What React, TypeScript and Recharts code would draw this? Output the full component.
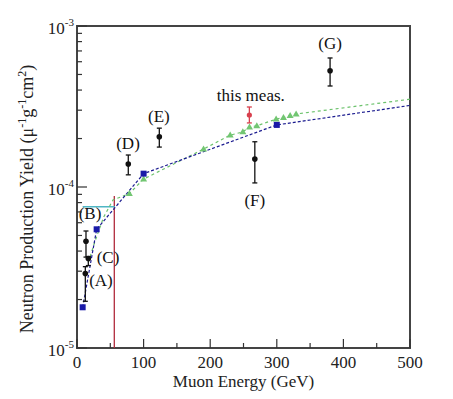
import React from 'react';
import {
  ComposedChart, Line, Scatter, XAxis, YAxis, ErrorBar, ReferenceArea,
} from 'recharts';

const FONT = '"Liberation Serif", "Times New Roman", serif';

// Black data points (other experiments) with asymmetric errors [minus, plus]
const blackEnergy = [12.5, 13.5, 17, 77, 123.6, 267, 380];
const blackYield = [2.9e-5, 4.6e-5, 3.6e-5, 1.39e-4, 2.05e-4, 1.49e-4, 5.27e-4];
const blackErr: [number, number][] = [
  [0.95e-5, 0.3e-5], [0.93e-5, 0.73e-5], [0.35e-5, 0.1e-5],
  [0.2e-4, 0.19e-4], [0.28e-4, 0.27e-4], [0.43e-4, 0.42e-4], [1.03e-4, 1.06e-4],
];

// This measurement
const measEnergy = [258.8];
const measYield = [2.8e-4];
const measErr: [number, number][] = [[0.3e-4, 0.34e-4]];

// Blue model (squares, dashed)
const blueEnergy = [8.5, 29.5, 100, 300, 500];
const blueYield = [1.79e-5, 5.46e-5, 1.21e-4, 2.43e-4, 3.21e-4];

// Green model curve (dotted) and its triangle points
const greenEnergy = [17, 27, 40, 54, 78.6, 100, 190, 230, 249, 259, 270, 299, 310, 320, 329, 500];
const greenYield = [3.4e-5, 4.6e-5, 6.5e-5, 8.3e-5, 9.1e-5, 1.12e-4, 1.72e-4, 2.1e-4, 2.2e-4, 2.36e-4, 2.4e-4, 2.64e-4, 2.7e-4, 2.78e-4, 2.84e-4, 3.51e-4];
const triEnergy = [78.6, 100, 190, 230, 249, 259, 270, 299, 310, 320, 329];
const triYield = [9.1e-5, 1.12e-4, 1.72e-4, 2.1e-4, 2.2e-4, 2.36e-4, 2.4e-4, 2.64e-4, 2.7e-4, 2.78e-4, 2.84e-4];

// Threshold guide lines
const cyanEnergy = [8.5, 57];
const cyanYield = [7.55e-5, 7.55e-5];
const redEnergy = [56, 56];
const redYield = [1e-5, 8.8e-5];

// Annotations
const labelText = ['(G)', 'this meas.', '(E)', '(D)', '(F)', '(B)', '(C)', '(A)'];
const labelEnergy = [380, 261, 123, 76.6, 267, 19.5, 46.5, 36];
const labelYield = [7.8e-4, 3.72e-4, 2.75e-4, 1.86e-4, 8.3e-5, 6.8e-5, 3.67e-5, 2.64e-5];

const xTicks = [0, 50, 100, 150, 200, 250, 300, 350, 400, 450, 500];
const yTicks = [
  1e-5, 2e-5, 3e-5, 4e-5, 5e-5, 6e-5, 7e-5, 8e-5, 9e-5,
  1e-4, 2e-4, 3e-4, 4e-4, 5e-4, 6e-4, 7e-4, 8e-4, 9e-4, 1e-3,
];

const zip = (xs: number[], ys: number[]) => xs.map((x, i) => ({ x, y: ys[i] }));
const blackData = blackEnergy.map((x, i) => ({ x, y: blackYield[i], err: blackErr[i] }));
const measData = measEnergy.map((x, i) => ({ x, y: measYield[i], err: measErr[i] }));
const blueData = zip(blueEnergy, blueYield);
const greenData = zip(greenEnergy, greenYield);
const triData = zip(triEnergy, triYield);
const cyanData = zip(cyanEnergy, cyanYield);
const redData = zip(redEnergy, redYield);
const labelData = labelEnergy.map((x, i) => ({ x, y: labelYield[i], text: labelText[i] }));

const renderXTick = (props: any) => {
  const { x, y, payload, index } = props;
  const v = payload.value;
  const major = v % 100 === 0;
  return (
    <g key={`xt${index}`}>
      <line x1={x} x2={x} y1={y} y2={y - (major ? 9 : 5)} stroke="#333" strokeWidth={1.2} />
      {major && (
        <text x={x} y={y + 20} textAnchor="middle" fontSize={17} fontFamily={FONT} fill="#222">
          {v}
        </text>
      )}
    </g>
  );
};

const renderYTick = (props: any) => {
  const { x, y, payload, index } = props;
  const v = payload.value;
  const lg = Math.log10(v);
  const major = Math.abs(lg - Math.round(lg)) < 1e-6;
  return (
    <g key={`yt${index}`}>
      <line x1={x} x2={x + (major ? 10 : 5)} y1={y} y2={y} stroke="#333" strokeWidth={1.2} />
      {major && (
        <text x={x - 3} y={y + 8} textAnchor="end" fontSize={17} fontFamily={FONT} fill="#222">
          <tspan>10</tspan>
          <tspan dy={-8} fontSize={11}>{String(Math.round(lg))}</tspan>
        </text>
      )}
    </g>
  );
};

const BlueDot = (props: any) => {
  const { cx, cy, index } = props;
  if (index === blueData.length - 1) return <g key={`bd${index}`} />;
  return <rect key={`bd${index}`} x={cx - 3} y={cy - 3} width={6} height={6} fill="#1a1aa8" />;
};

const Triangle = (props: any) => {
  const { cx, cy } = props;
  return <path d={`M${cx},${cy - 3.5} L${cx + 3.5},${cy + 2.5} L${cx - 3.5},${cy + 2.5} Z`} fill="#72c672" />;
};

const BlackDot = (props: any) => {
  const { cx, cy } = props;
  return <circle cx={cx} cy={cy} r={2.8} fill="#111" />;
};

const RedDot = (props: any) => {
  const { cx, cy } = props;
  return <circle cx={cx} cy={cy} r={2.6} fill="#d8404e" />;
};

const LabelShape = (props: any) => {
  const { cx, cy, payload } = props;
  return (
    <text x={cx} y={cy} textAnchor="middle" dominantBaseline="central" fontSize={17} fontFamily={FONT} fill="#111">
      {payload.text}
    </text>
  );
};

const renderXTitle = (props: any) => {
  const vb = props && props.viewBox && props.viewBox.width ? props.viewBox : { x: 77, y: 348, width: 333, height: 51 };
  return (
    <text key="xtitle" x={vb.x + vb.width / 2} y={348 + 39} textAnchor="middle" fontSize={17} fontFamily={FONT} fill="#222">
      Muon Energy (GeV)
    </text>
  );
};

const renderYTitle = (props: any) => {
  const vb = props && props.viewBox && props.viewBox.height ? props.viewBox : { x: 0, y: 26, width: 77, height: 322 };
  const cx = 33;
  const cy = vb.y + vb.height / 2 + 12;
  return (
    <text key="ytitle" x={cx} y={cy} transform={`rotate(-90 ${cx} ${cy})`} textAnchor="middle" fontSize={18} fontFamily={FONT} fill="#222">
      <tspan>Neutron Production Yield (μ</tspan>
      <tspan dy={-7} fontSize={12}>-1</tspan>
      <tspan dy={7}>g</tspan>
      <tspan dy={-7} fontSize={12}>-1</tspan>
      <tspan dy={7}>cm</tspan>
      <tspan dy={-7} fontSize={12}>2</tspan>
      <tspan dy={7}>)</tspan>
    </text>
  );
};

export default function App() {
  return (
    <div style={{ position: 'absolute', left: 0, top: 0, background: '#fff' }}>
      <ComposedChart width={453} height={399} margin={{ top: 26, right: 43, bottom: 0, left: 0 }}>
        <XAxis
          type="number" dataKey="x" domain={[0, 500]} ticks={xTicks} interval={0}
          height={51} tickSize={0} tickMargin={0} axisLine={false} tickLine={false}
          tick={renderXTick} label={{ content: renderXTitle }} allowDataOverflow
        />
        <YAxis
          type="number" dataKey="y" scale="log" domain={[1e-5, 1e-3]} ticks={yTicks} interval={0}
          width={77} tickSize={0} tickMargin={0} axisLine={false} tickLine={false}
          tick={renderYTick} label={{ content: renderYTitle }} allowDataOverflow
        />
        <ReferenceArea x1={0} x2={500} y1={1e-5} y2={1e-3} fill="none" fillOpacity={0} stroke="#444" strokeWidth={2} />
        <Line data={redData} dataKey="y" stroke="#b02a3c" strokeWidth={1.3} dot={false} isAnimationActive={false} />
        <Line data={cyanData} dataKey="y" stroke="#4fb6c4" strokeWidth={1.5} dot={false} isAnimationActive={false} />
        <Line data={greenData} dataKey="y" stroke="#6cc26c" strokeWidth={1.2} strokeDasharray="3 3" dot={false} isAnimationActive={false} />
        <Scatter data={triData} shape={<Triangle />} isAnimationActive={false} />
        <Line data={blueData} dataKey="y" stroke="#1c1c90" strokeWidth={1.2} strokeDasharray="3 2" dot={<BlueDot />} isAnimationActive={false} />
        <Scatter data={blackData} shape={<BlackDot />} isAnimationActive={false}>
          <ErrorBar dataKey="err" direction="y" width={2.5} stroke="#111" strokeWidth={1.3} />
        </Scatter>
        <Scatter data={measData} shape={<RedDot />} isAnimationActive={false}>
          <ErrorBar dataKey="err" direction="y" width={2.5} stroke="#d8404e" strokeWidth={1.3} />
        </Scatter>
        <Scatter data={labelData} shape={<LabelShape />} isAnimationActive={false} />
      </ComposedChart>
    </div>
  );
}
